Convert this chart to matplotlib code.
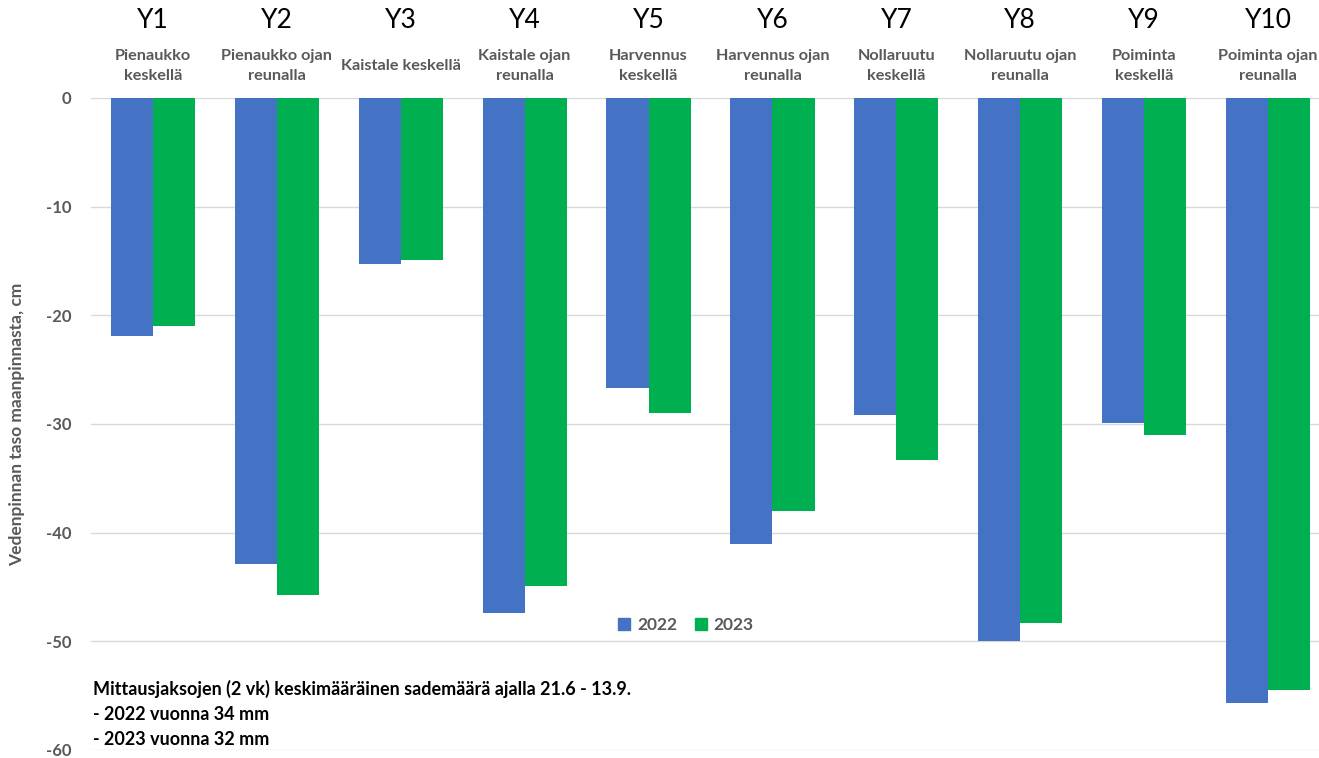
import numpy as np
import matplotlib.pyplot as plt
from matplotlib.patches import Patch

# === data ===
codes = ["Y1", "Y2", "Y3", "Y4", "Y5", "Y6", "Y7", "Y8", "Y9", "Y10"]
names = ["Pienaukko\nkeskellä", "Pienaukko ojan\nreunalla", "Kaistale keskellä",
         "Kaistale ojan\nreunalla", "Harvennus\nkeskellä", "Harvennus ojan\nreunalla",
         "Nollaruutu\nkeskellä", "Nollaruutu ojan\nreunalla", "Poiminta\nkeskellä",
         "Poiminta ojan\nreunalla"]
v2022 = [-21.9, -42.9, -15.3, -47.4, -26.7, -41.0, -29.2, -50.0, -29.9, -55.7]
v2023 = [-21.0, -45.7, -14.9, -44.9, -29.0, -38.0, -33.3, -48.3, -31.0, -54.5]
years = ["2022", "2023"]
note = ("Mittausjaksojen (2 vk) keskimääräinen sademäärä ajalla 21.6 - 13.9.\n"
        "- 2022 vuonna 34 mm\n- 2023 vuonna 32 mm")

blue = "#4472C4"
green = "#00B050"
gray = "#595959"

plt.rcParams['font.family'] = ['Lato', 'DejaVu Sans']
plt.rcParams['axes.unicode_minus'] = False

fig = plt.figure(figsize=(13.19, 7.58), dpi=100)
# plot area: y=0 at px 98, y=-60 at px ~750; categories 124 px wide from x=91
ax = fig.add_axes([91/1319, 1 - 750/758, 1239/1319, 652/758])

x = np.arange(len(codes))
w = 0.34
ax.bar(x - w/2, v2022, w, color=blue, zorder=3)
ax.bar(x + w/2, v2023, w, color=green, zorder=3)

ax.set_xlim(-0.5, len(codes) - 0.5)
ax.set_ylim(-60, 0)
ax.set_yticks(np.arange(-60, 1, 10))
ax.yaxis.grid(True, color="#D9D9D9", linewidth=1, zorder=0)
ax.set_xticks([])
for s in ax.spines.values():
    s.set_visible(False)
ax.tick_params(axis='y', length=0, pad=14, labelsize=12, labelcolor=gray)
for lbl in ax.get_yticklabels():
    lbl.set_fontweight('bold')
ax.set_ylabel("Vedenpinnan taso maanpinnasta, cm", fontsize=12.5,
              fontweight='bold', color=gray)
ax.yaxis.set_label_coords(-66/1239, 0.5)

# category headers above the plot
for i in range(len(codes)):
    ax.text(i, 1 + 78/652, codes[i], transform=ax.get_xaxis_transform(),
            ha='center', va='center', fontsize=19, color='black')
    ax.text(i, 1 + 32/652, names[i], transform=ax.get_xaxis_transform(),
            ha='center', va='center', fontsize=11.7, fontweight='bold',
            color=gray, linespacing=1.55)

handles = [Patch(color=blue), Patch(color=green)]
leg = ax.legend(handles, years, loc='center', bbox_to_anchor=(595/1239, 1 - 527/652),
                ncol=2, frameon=False, fontsize=12.5, handlelength=0.7,
                handleheight=0.7, columnspacing=1.0, handletextpad=0.4)
for t in leg.get_texts():
    t.set_color(gray)
    t.set_fontweight('bold')

ax.text(2/1239, 1 - 616/652, note, transform=ax.transAxes, ha='left', va='center',
        fontsize=13, fontweight='bold', color='black', linespacing=1.55)

fig.savefig("out.png", dpi=100)
